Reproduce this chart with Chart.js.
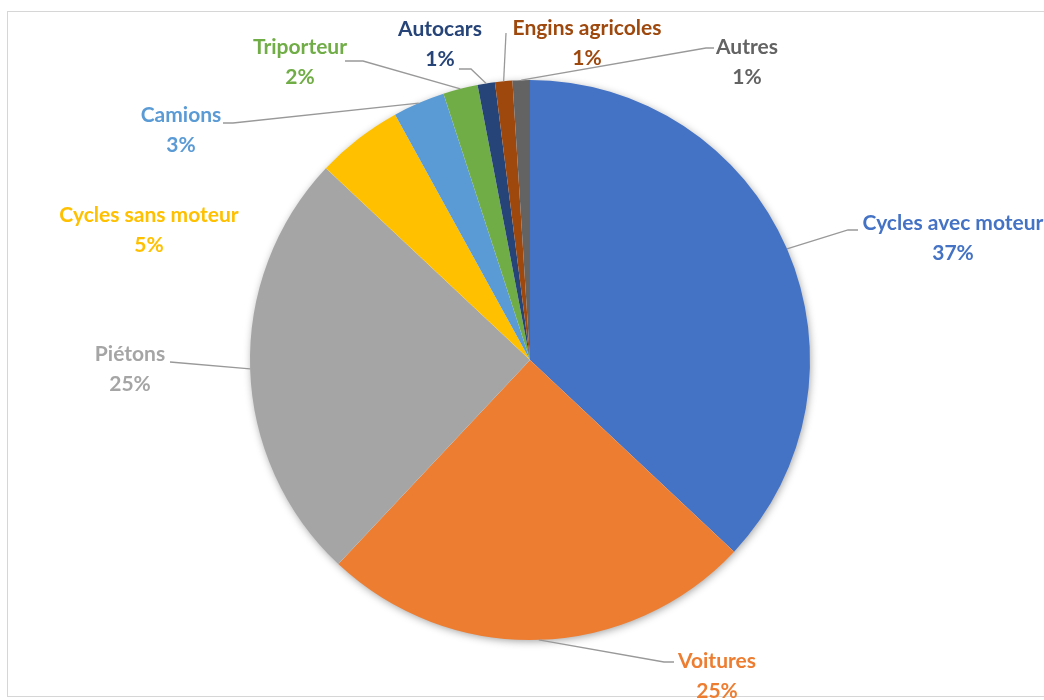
<!DOCTYPE html>
<html lang="fr">
<head>
<meta charset="utf-8">
<title>Répartition par catégorie</title>
<script src="https://cdn.jsdelivr.net/npm/chart.js@4"></script>
<style>
  html, body { margin: 0; padding: 0; background: #fff; }
  #wrap { position: relative; width: 1044px; height: 700px; overflow: hidden; }
  #frame {
    position: absolute; left: 7px; top: 11px; width: 1100px; height: 686px;
    border: 1px solid #d6d6d6; box-sizing: border-box;
  }
  canvas { position: absolute; left: 0; top: 0; }
</style>
</head>
<body>
<div id="wrap">
  <div id="frame"></div>
  <canvas id="pie" width="1044" height="700"></canvas>
</div>
<script>
// Catégories et parts (%)
const categories = [
  'Cycles avec moteur',
  'Voitures',
  'Piétons',
  'Cycles sans moteur',
  'Camions',
  'Triporteur',
  'Autocars',
  'Engins agricoles',
  'Autres'
];
const shares = [37, 25, 25, 5, 3, 2, 1, 1, 1];
const colors = [
  '#4472C4', '#ED7D31', '#A5A5A5', '#FFC000', '#5B9BD5',
  '#70AD47', '#264478', '#9E480E', '#636363'
];

// Placement des étiquettes : centre du texte, point d'attache de la ligne de rappel
const labelLayout = [
  { x: 953, y: 223, lead: [858, 230], hook: -10 },
  { x: 717, y: 661, lead: [674, 662], hook: -10 },
  { x: 130, y: 354, lead: [170, 362], hook: 0 },
  { x: 149, y: 215, lead: null },
  { x: 181, y: 115, lead: [223, 123], hook: 10 },
  { x: 300, y: 47, lead: [345, 61], hook: 18 },
  { x: 440, y: 29, lead: [459, 69], hook: 12 },
  { x: 587, y: 28, lead: [506, 33], hook: 0 },
  { x: 747, y: 47, lead: [714, 48], hook: -8 }
];
const LINE_GAP = 30;
const LABEL_FONT = 'bold 21px Lato, "Open Sans", sans-serif';

// Ombre douce sous le disque
const pieShadow = {
  id: 'pieShadow',
  beforeDatasetsDraw(chart) {
    const arc = chart.getDatasetMeta(0).data[0];
    if (!arc) return;
    const { x, y, outerRadius } = arc.getProps(['x', 'y', 'outerRadius'], true);
    const ctx = chart.ctx;
    ctx.save();
    ctx.shadowColor = 'rgba(0,0,0,0.4)';
    ctx.shadowBlur = 9;
    ctx.shadowOffsetX = 1;
    ctx.shadowOffsetY = 2;
    ctx.fillStyle = '#fff';
    ctx.beginPath();
    ctx.arc(x, y, outerRadius - 1, 0, Math.PI * 2);
    ctx.fill();
    ctx.restore();
  }
};

// Étiquettes extérieures avec lignes de rappel
const outsideLabels = {
  id: 'outsideLabels',
  afterDatasetsDraw(chart) {
    const ctx = chart.ctx;
    const meta = chart.getDatasetMeta(0);
    meta.data.forEach((arc, i) => {
      const p = arc.getProps(['x', 'y', 'startAngle', 'endAngle', 'outerRadius'], true);
      const mid = (p.startAngle + p.endAngle) / 2;
      const ax = p.x + Math.cos(mid) * p.outerRadius;
      const ay = p.y + Math.sin(mid) * p.outerRadius;
      const L = labelLayout[i];

      ctx.save();
      if (L.lead) {
        ctx.strokeStyle = '#999999';
        ctx.lineWidth = 1.3;
        ctx.beginPath();
        ctx.moveTo(L.lead[0], L.lead[1]);
        ctx.lineTo(L.lead[0] + L.hook, L.lead[1]);
        ctx.lineTo(ax, ay);
        ctx.stroke();
      }
      ctx.font = LABEL_FONT;
      ctx.fillStyle = colors[i];
      ctx.textAlign = 'center';
      ctx.textBaseline = 'middle';
      ctx.fillText(categories[i], L.x, L.y);
      ctx.fillText(shares[i] + '%', L.x, L.y + LINE_GAP);
      ctx.restore();
    });
  }
};

new Chart(document.getElementById('pie'), {
  type: 'pie',
  data: {
    labels: categories,
    datasets: [{
      data: shares,
      backgroundColor: colors,
      borderWidth: 0,
      hoverOffset: 0
    }]
  },
  options: {
    responsive: false,
    animation: false,
    layout: { padding: { left: 250, right: 234, top: 80, bottom: 60 } },
    plugins: {
      legend: { display: false },
      tooltip: { enabled: false }
    }
  },
  plugins: [pieShadow, outsideLabels]
});
</script>
</body>
</html>
